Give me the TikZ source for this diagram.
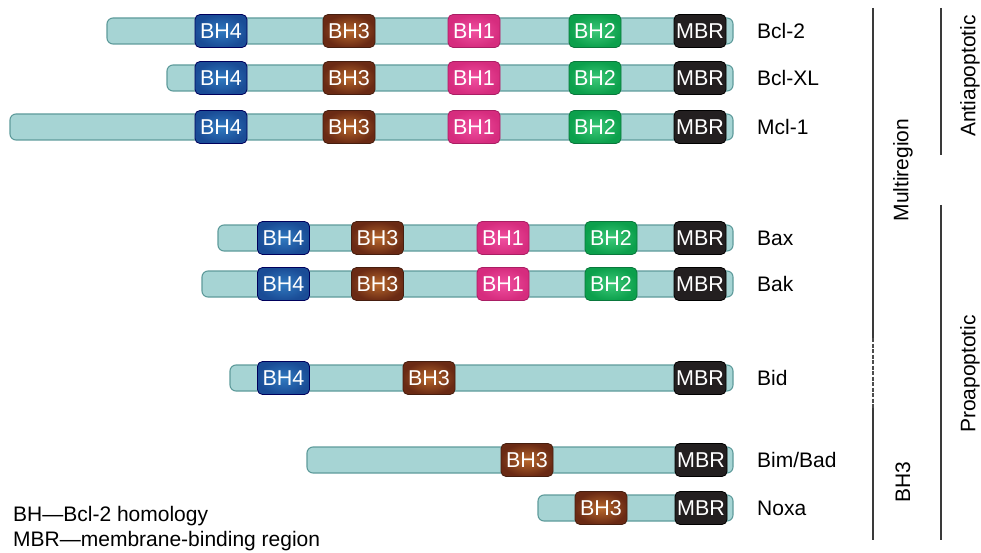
\documentclass[tikz,border=0pt]{standalone}
\usepackage{fontspec}
\setmainfont{Liberation Sans}
\definecolor{barfill}{HTML}{A6D4D4}
\definecolor{barline}{HTML}{5E9B9B}
\definecolor{sepline}{HTML}{3A3A3A}
\begin{document}
\begin{tikzpicture}[x=1pt,y=-1pt,
  bar/.style={draw=barline, line width=1.1pt, fill=barfill, rounded corners=6pt, minimum height=26pt, inner sep=0pt},
  dom/.style={rounded corners=5pt, minimum width=52pt, minimum height=33pt, inner sep=0pt, text=white, font=\fontsize{21.5}{24}\selectfont, line width=0.8pt},
  bhfour/.style={dom, draw=black!40!blue!60!black, shading=radial, inner color={rgb,255:red,48;green,122;blue,192}, outer color={rgb,255:red,26;green,76;blue,150}},
  bhthree/.style={dom, draw={rgb,255:red,70;green,30;blue,15}, shading=radial, inner color={rgb,255:red,184;green,104;blue,44}, outer color={rgb,255:red,106;green,42;blue,20}},
  bhone/.style={dom, draw={rgb,255:red,170;green,30;blue,100}, shading=radial, inner color={rgb,255:red,240;green,80;blue,160}, outer color={rgb,255:red,214;green,44;blue,126}},
  bhtwo/.style={dom, draw={rgb,255:red,10;green,120;blue,60}, shading=radial, inner color={rgb,255:red,60;green,200;blue,120}, outer color={rgb,255:red,12;green,160;blue,76}},
  mbr/.style={dom, draw=black, fill={rgb,255:red,35;green,31;blue,32}},
  lbl/.style={anchor=west, inner sep=0pt, font=\fontsize{21}{24}\selectfont},
  grp/.style={rotate=90, inner sep=0pt, font=\fontsize{21}{24}\selectfont},
  sep/.style={draw=sepline, line width=1.4pt}
]
\useasboundingbox (0,0) rectangle (981,553);

% Bcl-2
\node[bar, minimum width=626pt] (bar1) at (420,31) {};
\node[bhfour]  (r1a) at (221,31) {BH4};
\node[bhthree] (r1b) at (349,31) {BH3};
\node[bhone]   (r1c) at (474,31) {BH1};
\node[bhtwo]   (r1d) at (595,31) {BH2};
\node[mbr]     (r1e) at (700,31) {MBR};
\node[lbl]     (l1)  at (757,31) {Bcl-2};

% Bcl-XL
\node[bar, minimum width=566pt] (bar2) at (450,78) {};
\node[bhfour]  (r2a) at (221,78) {BH4};
\node[bhthree] (r2b) at (349,78) {BH3};
\node[bhone]   (r2c) at (474,78) {BH1};
\node[bhtwo]   (r2d) at (595,78) {BH2};
\node[mbr]     (r2e) at (700,78) {MBR};
\node[lbl]     (l2)  at (757,78) {Bcl-XL};

% Mcl-1
\node[bar, minimum width=723pt] (bar3) at (371.5,127) {};
\node[bhfour]  (r3a) at (221,127) {BH4};
\node[bhthree] (r3b) at (349,127) {BH3};
\node[bhone]   (r3c) at (474,127) {BH1};
\node[bhtwo]   (r3d) at (595,127) {BH2};
\node[mbr]     (r3e) at (700,127) {MBR};
\node[lbl]     (l3)  at (757,127) {Mcl-1};

% Bax
\node[bar, minimum width=515pt] (bar4) at (475.5,238) {};
\node[bhfour]  (r4a) at (283.5,238) {BH4};
\node[bhthree] (r4b) at (377.5,238) {BH3};
\node[bhone]   (r4c) at (503,238) {BH1};
\node[bhtwo]   (r4d) at (611,238) {BH2};
\node[mbr]     (r4e) at (700,238) {MBR};
\node[lbl]     (l4)  at (757,238) {Bax};

% Bak
\node[bar, minimum width=531pt] (bar5) at (467.5,284) {};
\node[bhfour]  (r5a) at (283.5,284) {BH4};
\node[bhthree] (r5b) at (377.5,284) {BH3};
\node[bhone]   (r5c) at (503,284) {BH1};
\node[bhtwo]   (r5d) at (611,284) {BH2};
\node[mbr]     (r5e) at (700,284) {MBR};
\node[lbl]     (l5)  at (757,284) {Bak};

% Bid
\node[bar, minimum width=503pt] (bar6) at (481.5,378) {};
\node[bhfour]  (r6a) at (283.5,378) {BH4};
\node[bhthree] (r6b) at (429,378) {BH3};
\node[mbr]     (r6e) at (700,378) {MBR};
\node[lbl]     (l6)  at (757,378) {Bid};

% Bim/Bad
\node[bar, minimum width=426pt] (bar7) at (520,460) {};
\node[bhthree] (r7b) at (527,460) {BH3};
\node[mbr]     (r7e) at (701,460) {MBR};
\node[lbl]     (l7)  at (757,460) {Bim/Bad};

% Noxa
\node[bar, minimum width=195pt] (bar8) at (635.5,508) {};
\node[bhthree] (r8b) at (601,508) {BH3};
\node[mbr]     (r8e) at (701,508) {MBR};
\node[lbl]     (l8)  at (757,508) {Noxa};

% group separators
\coordinate (m1) at (873,8);
\coordinate (m2) at (873,338);
\coordinate (m3) at (873,408);
\coordinate (m4) at (873,540);
\coordinate (a1) at (941,8);
\coordinate (a2) at (941,155);
\coordinate (p1) at (941,205);
\coordinate (p2) at (941,540);
\draw[sep] (m1) -- (m2);
\draw[sep, draw=black!70, line width=1.4pt, dash pattern=on 4pt off 1.5pt] (m2) -- (m3);
\draw[sep] (m3) -- (m4);
\draw[sep] (a1) -- (a2);
\draw[sep] (p1) -- (p2);

\node[grp] (gm) at (903,170) {Multiregion};
\node[grp] (gb) at (903,482) {BH3};
\node[grp] (ga) at (970,76) {Antiapoptotic};
\node[grp] (gp) at (970,374) {Proapoptotic};

% legend
\node[lbl] (k1) at (13,516) {BH—Bcl-2 homology};
\node[lbl] (k2) at (13,541) {MBR—membrane-binding region};
\end{tikzpicture}
\end{document}
